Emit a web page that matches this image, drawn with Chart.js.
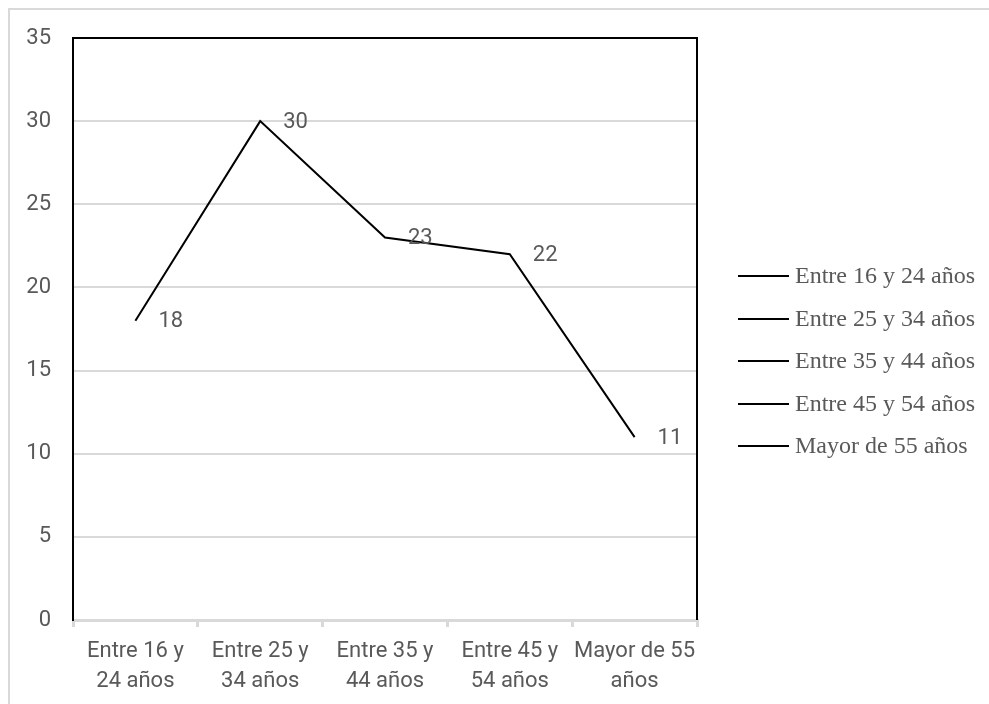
<!DOCTYPE html>
<html lang="es">
<head>
<meta charset="utf-8">
<title>Edades</title>
<script src="https://cdn.jsdelivr.net/npm/chart.js@4.4.1/dist/chart.umd.min.js"></script>
<style>
  html, body { margin: 0; padding: 0; background: #fff; overflow: hidden; }
  #frame {
    position: absolute; left: 8px; top: 8px;
    width: 1200px; height: 1000px;
    border: 2px solid #d9d9d9;
  }
  #wrap { position: absolute; left: 0; top: 0; width: 989px; height: 704px; }
</style>
</head>
<body>
<div id="frame"></div>
<div id="wrap"><canvas id="edadesChart"></canvas></div>
<script>
// Tramos de edad (eje X, en dos líneas) y su leyenda
const categorias = [
  ['Entre 16 y', '24 años'],
  ['Entre 25 y', '34 años'],
  ['Entre 35 y', '44 años'],
  ['Entre 45 y', '54 años'],
  ['Mayor de 55', 'años']
];
const leyenda = [
  'Entre 16 y 24 años',
  'Entre 25 y 34 años',
  'Entre 35 y 44 años',
  'Entre 45 y 54 años',
  'Mayor de 55 años'
];
const valores = [18, 30, 23, 22, 11];
const ticksY = [0, 5, 10, 15, 20, 25, 30, 35];

const GRIS_TEXTO = '#595959';
const GRIS_LINEA = '#d9d9d9';

Chart.defaults.font.family = 'Roboto';
Chart.defaults.color = GRIS_TEXTO;

// Marco negro arriba y a la derecha del área del gráfico
const marcoPlugin = {
  id: 'marco',
  beforeDatasetsDraw(chart) {
    const { ctx, chartArea: a } = chart;
    ctx.save();
    ctx.strokeStyle = '#000';
    ctx.lineWidth = 2;
    ctx.beginPath();
    ctx.moveTo(a.left, a.top);
    ctx.lineTo(a.right, a.top);
    ctx.lineTo(a.right, a.bottom);
    ctx.stroke();
    ctx.restore();
  }
};

// Etiquetas de valor a la derecha de cada punto
const etiquetasPlugin = {
  id: 'etiquetas',
  afterDatasetsDraw(chart) {
    const { ctx } = chart;
    const meta = chart.getDatasetMeta(0);
    ctx.save();
    ctx.font = '22px Roboto';
    ctx.fillStyle = GRIS_TEXTO;
    ctx.textAlign = 'left';
    ctx.textBaseline = 'middle';
    meta.data.forEach((pt, i) => {
      ctx.fillText(String(valores[i]), pt.x + 23, pt.y + 1);
    });
    ctx.restore();
  }
};

// Leyenda a la derecha: una raya negra y el texto en serif por cada tramo
const leyendaPlugin = {
  id: 'leyendaTramos',
  afterDraw(chart) {
    const { ctx, chartArea: a } = chart;
    const paso = 42.5;
    const y0 = chart.height / 2 + 9 - paso * (leyenda.length - 1) / 2;
    ctx.save();
    ctx.font = '24px "Liberation Serif"';
    ctx.textAlign = 'left';
    ctx.textBaseline = 'middle';
    leyenda.forEach((txt, i) => {
      const y = Math.round(y0 + i * paso);
      ctx.strokeStyle = '#000';
      ctx.lineWidth = 2;
      ctx.beginPath();
      ctx.moveTo(a.right + 41, y);
      ctx.lineTo(a.right + 92, y);
      ctx.stroke();
      ctx.fillStyle = GRIS_TEXTO;
      ctx.fillText(txt, a.right + 98, y + 1);
    });
    ctx.restore();
  }
};

new Chart(document.getElementById('edadesChart'), {
  type: 'line',
  data: {
    labels: categorias,
    datasets: [{
      label: 'Edad',
      data: valores,
      borderColor: '#000',
      borderWidth: 2,
      pointRadius: 0,
      tension: 0,
      fill: false
    }]
  },
  options: {
    responsive: true,
    maintainAspectRatio: false,
    animation: false,
    layout: { padding: { top: 38, left: 0, right: 292, bottom: 0 } },
    scales: {
      x: {
        offset: true,
        grid: {
          offset: true,
          drawOnChartArea: false,
          drawTicks: true,
          tickLength: 7,
          color: GRIS_LINEA,
          lineWidth: 3
        },
        border: { display: true, color: GRIS_LINEA, width: 3 },
        ticks: {
          padding: 10,
          maxRotation: 0,
          font: { size: 22, lineHeight: 1.36 },
          color: GRIS_TEXTO
        },
        afterFit(scale) { scale.height = 84; }
      },
      y: {
        min: 0,
        max: 35,
        afterBuildTicks(scale) { scale.ticks = ticksY.map(v => ({ value: v })); },
        grid: { color: GRIS_LINEA, lineWidth: 2, drawTicks: false },
        border: { display: true, color: '#000', width: 2 },
        ticks: { padding: 22, font: { size: 22 }, color: GRIS_TEXTO },
        afterFit(scale) { scale.width = 73; }
      }
    },
    plugins: {
      tooltip: { enabled: false },
      legend: { display: false }
    }
  },
  plugins: [marcoPlugin, etiquetasPlugin, leyendaPlugin]
});
</script>
</body>
</html>
